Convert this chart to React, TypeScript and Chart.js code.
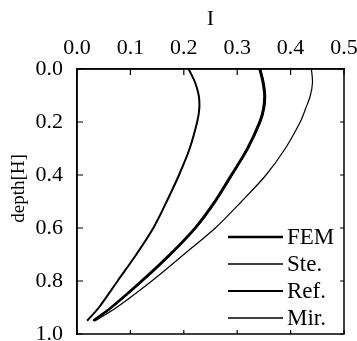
import React, { useEffect, useRef } from "react";
import { Chart, registerables } from "chart.js";

Chart.register(...registerables);

const depths = [0, 0.05, 0.1, 0.15, 0.2, 0.3, 0.4, 0.5, 0.6, 0.7, 0.8, 0.9, 0.95];
const femValues = [0.342, 0.348, 0.351, 0.349, 0.342, 0.319, 0.289, 0.258, 0.221, 0.174, 0.121, 0.064, 0.031];
const steValues = [0.344, 0.35, 0.353, 0.351, 0.344, 0.321, 0.291, 0.26, 0.223, 0.176, 0.123, 0.065, 0.03];
const refValues = [0.209, 0.221, 0.228, 0.229, 0.225, 0.211, 0.191, 0.168, 0.143, 0.111, 0.076, 0.041, 0.019];
const mirValues = [0.439, 0.441, 0.437, 0.428, 0.418, 0.39, 0.354, 0.308, 0.259, 0.2, 0.14, 0.074, 0.034];
const seriesLabels = ["FEM", "Ste.", "Ref.", "Mir."];
const seriesWidths = [2.6, 1.4, 2.0, 1.2];
const xTicks = [0, 0.1, 0.2, 0.3, 0.4, 0.5];
const yTicks = [0, 0.2, 0.4, 0.6, 0.8, 1.0];
const yTitle = "depth[H]";

const FONT = "'Liberation Serif', 'Times New Roman', serif";

const framePlugin = {
  id: "frameAndLegend",
  afterDatasetsDraw(chart: any) {
    const { ctx, chartArea } = chart;
    const { left, right, top, bottom } = chartArea;
    const xs = chart.scales.x;
    const ys = chart.scales.y;
    ctx.save();
    ctx.strokeStyle = "#000";
    ctx.lineWidth = 1.5;
    ctx.strokeRect(left, top, right - left, bottom - top);
    ctx.lineWidth = 1.2;
    ctx.beginPath();
    xTicks.forEach((v) => {
      const px = xs.getPixelForValue(v);
      ctx.moveTo(px, top);
      ctx.lineTo(px, top + 6);
      ctx.moveTo(px, bottom);
      ctx.lineTo(px, bottom - 4);
    });
    yTicks.forEach((v) => {
      const py = ys.getPixelForValue(v);
      ctx.moveTo(left, py);
      ctx.lineTo(left + 6, py);
      ctx.moveTo(right, py);
      ctx.lineTo(right - 4, py);
    });
    ctx.stroke();

    // y axis title
    ctx.save();
    ctx.fillStyle = "#000";
    ctx.font = `19px ${FONT}`;
    ctx.textAlign = "center";
    ctx.textBaseline = "middle";
    ctx.translate(19, (top + bottom) / 2 - 13);
    ctx.rotate(-Math.PI / 2);
    ctx.fillText(yTitle, 0, 0);
    ctx.restore();

    // legend inside plot, lower right
    const x0 = right - 116;
    const x1 = right - 61;
    const y0 = bottom - 97;
    ctx.font = `23px ${FONT}`;
    ctx.fillStyle = "#000";
    ctx.textBaseline = "middle";
    ctx.textAlign = "left";
    chart.data.datasets.forEach((ds: any, i: number) => {
      const y = y0 + i * 27;
      ctx.lineWidth = Math.max(1.6, ds.borderWidth);
      ctx.beginPath();
      ctx.moveTo(x0, y);
      ctx.lineTo(x1, y);
      ctx.stroke();
      ctx.fillText(ds.label, x1 + 4, y + 1);
    });
    ctx.restore();
  },
};

export default function App() {
  const ref = useRef<HTMLCanvasElement>(null);
  useEffect(() => {
    if (!ref.current) return;
    const all = [femValues, steValues, refValues, mirValues];
    const chart = new Chart(ref.current, {
      type: "line",
      data: {
        datasets: all.map((vals, i) => ({
          label: seriesLabels[i],
          data: vals.map((v, j) => ({ x: v, y: depths[j] })),
          borderColor: "#000",
          borderWidth: seriesWidths[i],
          pointRadius: 0,
          tension: 0.3,
          fill: false,
        })),
      },
      options: {
        animation: false,
        responsive: false,
        devicePixelRatio: 1,
        layout: { padding: { left: 0, right: 13, top: 0, bottom: 7 } },
        plugins: { legend: { display: false }, tooltip: { enabled: false } },
        scales: {
          x: {
            type: "linear",
            position: "top",
            min: 0,
            max: 0.5,
            afterBuildTicks: (s: any) => {
              s.ticks = xTicks.map((v) => ({ value: v }));
            },
            afterFit: (s: any) => {
              s.height = 69;
              s.paddingLeft = 0;
              s.paddingRight = 0;
            },
            ticks: {
              color: "#000",
              font: { family: FONT, size: 22 },
              padding: 8,
              maxRotation: 0,
              callback: (v: any) => Number(v).toFixed(1),
            },
            grid: { display: false, drawTicks: false },
            border: { display: true, color: "#000", width: 1.5 },
            title: {
              display: true,
              text: "I",
              color: "#000",
              font: { family: FONT, size: 22 },
              padding: { top: 6, bottom: 0 },
            },
          },
          y: {
            type: "linear",
            reverse: true,
            min: 0,
            max: 1,
            afterBuildTicks: (s: any) => {
              s.ticks = yTicks.map((v) => ({ value: v }));
            },
            afterFit: (s: any) => {
              s.width = 77;
              s.paddingTop = 0;
              s.paddingBottom = 0;
            },
            ticks: {
              color: "#000",
              font: { family: FONT, size: 22 },
              padding: 14,
              callback: (v: any) => Number(v).toFixed(1),
            },
            grid: { display: false, drawTicks: false },
            border: { display: true, color: "#000", width: 1.5 },
            title: { display: false },
          },
        },
      },
      plugins: [framePlugin],
    });
    return () => chart.destroy();
  }, []);
  return (
    <div style={{ position: "fixed", left: 0, top: 0, width: 357, height: 341, background: "#fff" }}>
      <canvas ref={ref} width={357} height={341} style={{ width: 357, height: 341, display: "block" }} />
    </div>
  );
}
